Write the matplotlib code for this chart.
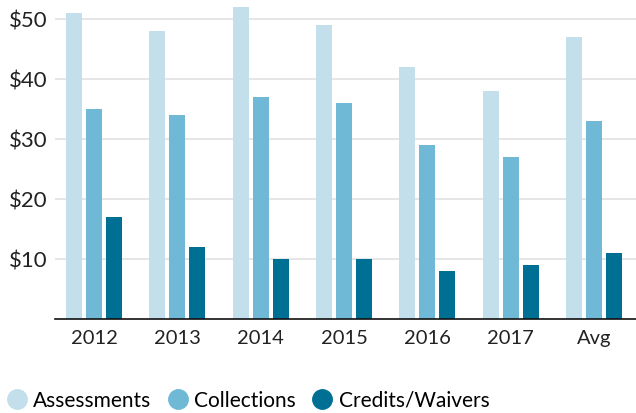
import numpy as np
import matplotlib
matplotlib.use("Agg")
import matplotlib.pyplot as plt
from matplotlib.lines import Line2D

categories = ["2012", "2013", "2014", "2015", "2016", "2017", "Avg"]
assessments = [51, 48, 52, 49, 42, 38, 47]
collections = [35, 34, 37, 36, 29, 27, 33]
credits = [17, 12, 10, 10, 8, 9, 11]
series_names = ["Assessments", "Collections", "Credits/Waivers"]
colors = ["#c2dfeb", "#6fb9d6", "#006f94"]

plt.rcParams['font.family'] = ['Lato', 'DejaVu Sans']

fig = plt.figure(figsize=(6.36, 4.14), dpi=100)
ax = fig.add_axes([55/636, 1 - 320/414, 1 - 55/636, 320/414])

x = np.arange(len(categories))
step = 0.24
width = 0.192
for i, (vals, col) in enumerate(zip([assessments, collections, credits], colors)):
    ax.bar(x + (i - 1) * step, vals, width=width, color=col, zorder=3)

ax.set_xlim(-0.468, len(categories) - 1 + 0.504)
ax.set_ylim(0, 53.3)
ax.set_yticks([10, 20, 30, 40, 50])
ax.set_yticklabels([f"${v}" for v in [10, 20, 30, 40, 50]])
ax.set_xticks(x)
ax.set_xticklabels(categories)
ax.tick_params(axis='y', length=0, pad=5, labelsize=16, colors='#222222')
ax.tick_params(axis='x', length=0, pad=7, labelsize=14.5, colors='#222222')
ax.grid(axis='y', color='#e2e2e2', linewidth=1.2, zorder=0)
for s in ['top', 'right', 'left']:
    ax.spines[s].set_visible(False)
ax.spines['bottom'].set_color('#111111')
ax.spines['bottom'].set_linewidth(1.2)
ax.spines['bottom'].set_zorder(4)

handles = [Line2D([], [], marker='o', linestyle='none', markersize=14,
                  markerfacecolor=c, markeredgecolor=c) for c in colors]
fig.legend(handles, series_names, loc='center left', bbox_to_anchor=(0.0, 1 - 401/414),
           ncol=3, frameon=False, fontsize=15, handletextpad=0.3,
           columnspacing=0.75, borderaxespad=0, borderpad=0.3, handlelength=1.0)

fig.savefig("out.png", dpi=100)
